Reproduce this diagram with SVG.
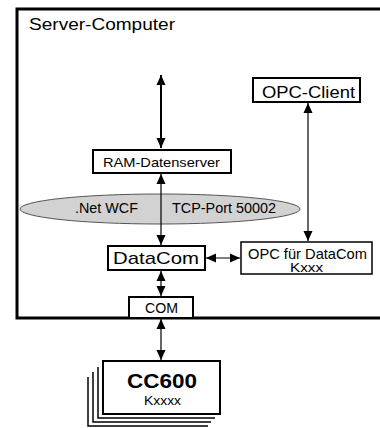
<svg xmlns="http://www.w3.org/2000/svg" width="380" height="428" viewBox="0 0 380 428">
  <style>
    text { font-family: "Liberation Sans", Arial, sans-serif; fill: #000; }
    .box { fill: #fff; stroke: #000; stroke-width: 2; }
    .thin { fill: #fff; stroke: #000; stroke-width: 1.5; }
    .conn { stroke: #000; stroke-width: 1.2; fill: none; }
    .conn-bold { stroke: #000; stroke-width: 2; fill: none; }
    .page { stroke: #000; stroke-width: 1.5; fill: none; }
  </style>
  <defs>
    <marker id="arrow" markerUnits="userSpaceOnUse" markerWidth="10" markerHeight="10" viewBox="0 0 10 10" refX="10" refY="5" orient="auto-start-reverse">
      <path d="M0,0.5 L10,5 L0,9.5 Z" fill="#000"/>
    </marker>
  </defs>

  <rect width="380" height="428" fill="#fff"/>

  <!-- server computer frame -->
  <g id="server">
    <rect x="17" y="9" width="380" height="309" fill="none" stroke="#000" stroke-width="3"/>
    <text x="29" y="30" font-size="17" textLength="146" lengthAdjust="spacingAndGlyphs">Server-Computer</text>
  </g>

  <!-- connectors -->
  <g id="connectors">
    <line class="conn-bold" x1="161" y1="75" x2="161" y2="148" marker-start="url(#arrow)" marker-end="url(#arrow)"/>
    <line class="conn" x1="308" y1="103" x2="308" y2="241" marker-start="url(#arrow)" marker-end="url(#arrow)"/>
    <line class="conn" x1="206" y1="258" x2="240" y2="258" marker-start="url(#arrow)" marker-end="url(#arrow)"/>
    <line class="conn" x1="161" y1="271" x2="161" y2="296" marker-start="url(#arrow)" marker-end="url(#arrow)"/>
    <line class="conn" x1="161" y1="319" x2="161" y2="360" marker-start="url(#arrow)" marker-end="url(#arrow)"/>
  </g>

  <!-- WCF channel -->
  <g id="wcf">
    <ellipse cx="160" cy="209" rx="140" ry="15" fill="#d2d2d2" stroke="#555" stroke-width="1"/>
    <text x="75" y="213" font-size="14" textLength="63" lengthAdjust="spacingAndGlyphs">.Net WCF</text>
    <text x="172" y="213" font-size="14" textLength="104" lengthAdjust="spacingAndGlyphs">TCP-Port 50002</text>
  </g>
  <line class="conn" x1="161" y1="174" x2="161" y2="245" marker-start="url(#arrow)" marker-end="url(#arrow)"/>

  <g id="ram">
    <rect class="box" x="93" y="150" width="138" height="23"/>
    <text x="103" y="166.5" font-size="13" textLength="117" lengthAdjust="spacingAndGlyphs">RAM-Datenserver</text>
  </g>

  <g id="opc-client">
    <rect class="box" x="253" y="78" width="107" height="24"/>
    <text x="262" y="97.5" font-size="17" textLength="93" lengthAdjust="spacingAndGlyphs">OPC-Client</text>
  </g>

  <g id="datacom">
    <rect class="box" x="108" y="246" width="97" height="24"/>
    <text x="113" y="263.5" font-size="17" textLength="86" lengthAdjust="spacingAndGlyphs">DataCom</text>
  </g>

  <g id="opc-datacom">
    <rect class="thin" x="241" y="242" width="131" height="32"/>
    <text x="248" y="258.5" font-size="15" textLength="119" lengthAdjust="spacingAndGlyphs" fill="#222">OPC für DataCom</text>
    <text x="290" y="272" font-size="13" textLength="33" lengthAdjust="spacingAndGlyphs" fill="#222">Kxxx</text>
  </g>

  <g id="com">
    <rect class="box" x="129" y="297" width="64" height="21"/>
    <text x="145" y="313" font-size="15" textLength="33" lengthAdjust="spacingAndGlyphs">COM</text>
  </g>

  <g id="cc600">
    <polyline class="page" points="88,377 88,426 208,426"/>
    <polyline class="page" points="93,372 93,422 211,422"/>
    <polyline class="page" points="98,367 98,418 215,418"/>
    <rect class="box" x="103" y="361" width="117" height="53"/>
    <text x="127" y="388" font-size="21" font-weight="bold" textLength="70" lengthAdjust="spacingAndGlyphs">CC600</text>
    <text x="144" y="405" font-size="13" textLength="37" lengthAdjust="spacingAndGlyphs">Kxxxx</text>
  </g>
</svg>
